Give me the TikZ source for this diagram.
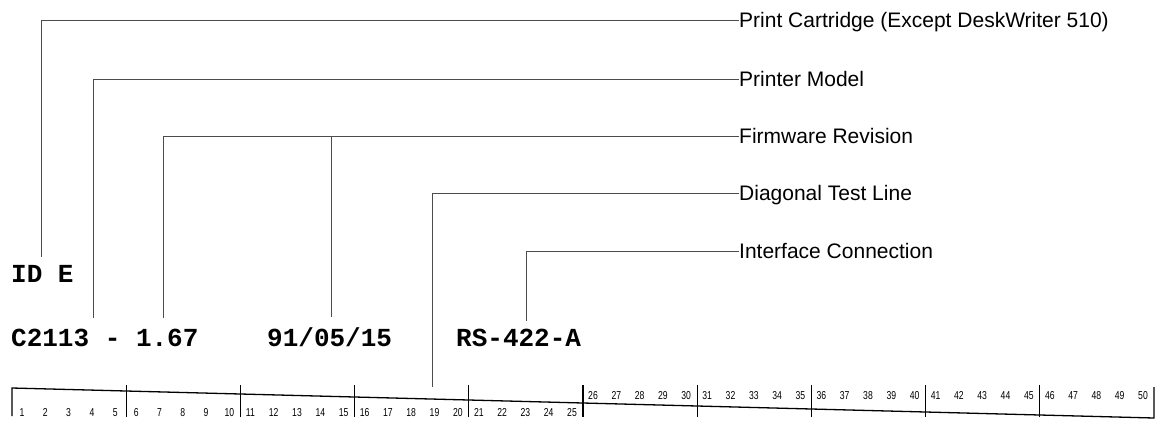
\documentclass[tikz,border=0pt]{standalone}
\usepackage{fontspec}
\setmainfont{Liberation Sans}
\newfontfamily\labfont{Liberation Sans}
\newfontfamily\codefont{Liberation Mono}
\newfontfamily\rulerfont[FakeStretch=0.75]{Liberation Sans}
\begin{document}
\begin{tikzpicture}[x=1pt,y=-1pt,
  lab/.style={anchor=west, inner sep=0pt, text height=15pt, text depth=0pt,
              font=\labfont\fontsize{21pt}{21pt}\selectfont},
  codetext/.style={anchor=base west, inner sep=0pt,
              font=\codefont\bfseries\fontsize{26pt}{26pt}\selectfont},
  conn/.style={draw=black!70, line width=0.9pt},
  rul/.style={draw=black, line width=1.3pt},
  rulnum/.style={anchor=base, inner sep=0pt, font=\rulerfont\fontsize{11.5pt}{11.5pt}\selectfont}]
\useasboundingbox (0,0) rectangle (1156,421);

% labels
\node[lab] (pc) at (739,20)  {Print Cartridge (Except DeskWriter 510)};
\node[lab] (pm) at (739,79)  {Printer Model};
\node[lab] (fw) at (739,136) {Firmware Revision};
\node[lab] (dt) at (739,193) {Diagonal Test Line};
\node[lab] (ic) at (739,251) {Interface Connection};

% printed texts
\node[codetext] (ide)   at (11,282)  {ID E};
\node[codetext] (model) at (11,346)  {C2113 - 1.67};
\node[codetext] (date)  at (267,346) {91/05/15};
\node[codetext] (iface) at (456,346) {RS-422-A};

% connector ends
\coordinate (pcend)  at (41,257);
\coordinate (pmend)  at (93,318);
\coordinate (fwend)  at (163,318);
\coordinate (fwend2) at (331,317);
\coordinate (dtend)  at (432,387);
\coordinate (icend)  at (526,321);

\draw[conn] (pc.west) -| (pcend);
\draw[conn] (pm.west) -| (pmend);
\draw[conn] (fw.west) -| (fwend);
\draw[conn] (fw.west -| fwend2) -- (fwend2);
\draw[conn] (dt.west) -| (dtend);
\draw[conn] (ic.west) -| (icend);

% ruler
\draw[rul] (12,416) -- (12,388) -- (1154,418) -- (1154,387);
\foreach \k in {1,...,9}{
  \pgfmathsetmacro{\tx}{12+\k*114.2}
  \draw[rul] (\tx,385) -- (\tx,417);
}
\foreach \n in {1,...,50}{
  \pgfmathtruncatemacro{\g}{floor((\n-1)/5)}
  \pgfmathtruncatemacro{\i}{mod(\n-1,5)}
  \pgfmathsetmacro{\nx}{12+\g*114.2+10+\i*23.3}
  \ifnum\n<26
    \node[rulnum] (r\n) at (\nx,416) {\n};
  \else
    \node[rulnum] (r\n) at (\nx,399) {\n};
  \fi
}
\end{tikzpicture}
\end{document}
